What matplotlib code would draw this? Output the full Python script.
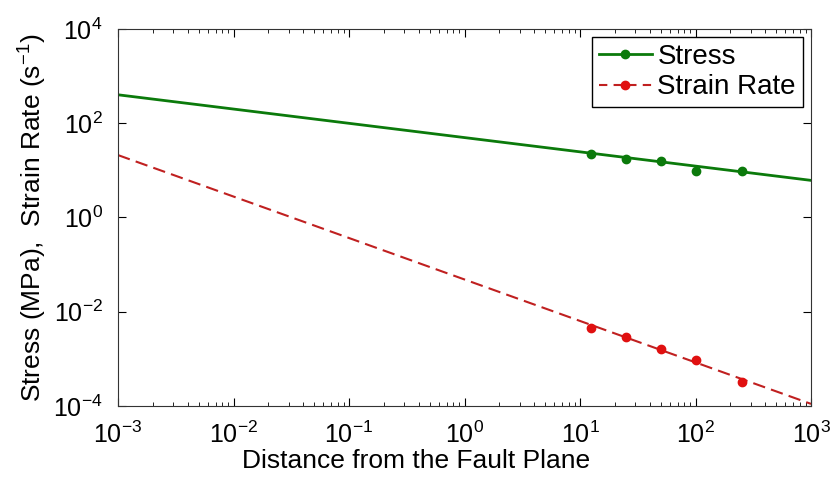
import matplotlib.pyplot as plt
from matplotlib.lines import Line2D
from matplotlib.ticker import LogLocator

plt.rcParams['font.family'] = ['Liberation Sans', 'DejaVu Sans']
plt.rcParams['mathtext.fontset'] = 'custom'
plt.rcParams['mathtext.rm'] = 'Liberation Sans'
plt.rcParams['mathtext.it'] = 'Liberation Sans:italic'
plt.rcParams['mathtext.bf'] = 'Liberation Sans:bold'

# fitted lines (end points over the plotted range)
fit_x = [1e-3, 1e3]
stress_fit = [400, 6.1]
strain_fit = [21, 1.1e-4]

# measured points
dist = [12.5, 25, 50, 100, 250]
stress = [22, 17.5, 15.5, 9.5, 9.7]
strain_rate = [4.4e-3, 2.9e-3, 1.6e-3, 9.5e-4, 3.2e-4]

# tick positions
xticks = [1e-3, 1e-2, 1e-1, 1e0, 1e1, 1e2, 1e3]
yticks = [1e-4, 1e-2, 1e0, 1e2, 1e4]

green = '#0b7a0b'
red = '#e01010'
dark_red = '#c02020'

fig = plt.figure(figsize=(8.31, 4.82), dpi=100)
ax = fig.add_axes([0.142, 0.158, 0.834, 0.782])

ax.loglog(fit_x, stress_fit, '-', color=green, lw=2)
ax.loglog(dist, stress, 'o', color=green, ms=6)
ax.loglog(fit_x, strain_fit, '--', color=dark_red, lw=1.5, dashes=(6, 3))
ax.loglog(dist, strain_rate, 'o', color=red, ms=6)

ax.set_xlim(1e-3, 1e3)
ax.set_ylim(1e-4, 1e4)
ax.set_xticks(xticks)
ax.set_yticks(yticks)
ax.set_yticks([], minor=True)
ax.xaxis.set_minor_locator(LogLocator(base=10, subs=range(2, 10), numticks=20))

ax.tick_params(which='both', direction='in', top=True, right=True, labelsize=18)
ax.tick_params(which='major', length=6)
ax.tick_params(which='minor', length=3)
ax.tick_params(axis='x', which='major', pad=11)
ax.tick_params(axis='y', which='major', pad=11)
for s in ax.spines.values():
    s.set_color('#333333')

ax.set_xlabel('Distance from the Fault Plane', fontsize=19)
ax.xaxis.set_label_coords(0.43, -0.115)
ax.set_ylabel('Stress (MPa),  Strain Rate (s$^{-1}$)', fontsize=19)
ax.yaxis.set_label_coords(-0.1, 0.5)

handles = [
    Line2D([], [], color=green, lw=2, marker='o', ms=6),
    Line2D([], [], color=dark_red, lw=1.5, ls='--', dashes=(4, 3),
           marker='o', ms=6, mfc=red, mec=red),
]
leg = ax.legend(handles, ['Stress', 'Strain Rate'], loc='upper right',
                fontsize=20, fancybox=False, framealpha=1, edgecolor='black',
                handlelength=1.9, handletextpad=0.2, borderpad=0.25,
                labelspacing=0.15, borderaxespad=0.3)
leg.get_frame().set_linewidth(1)

fig.savefig('out.png', dpi=100)
